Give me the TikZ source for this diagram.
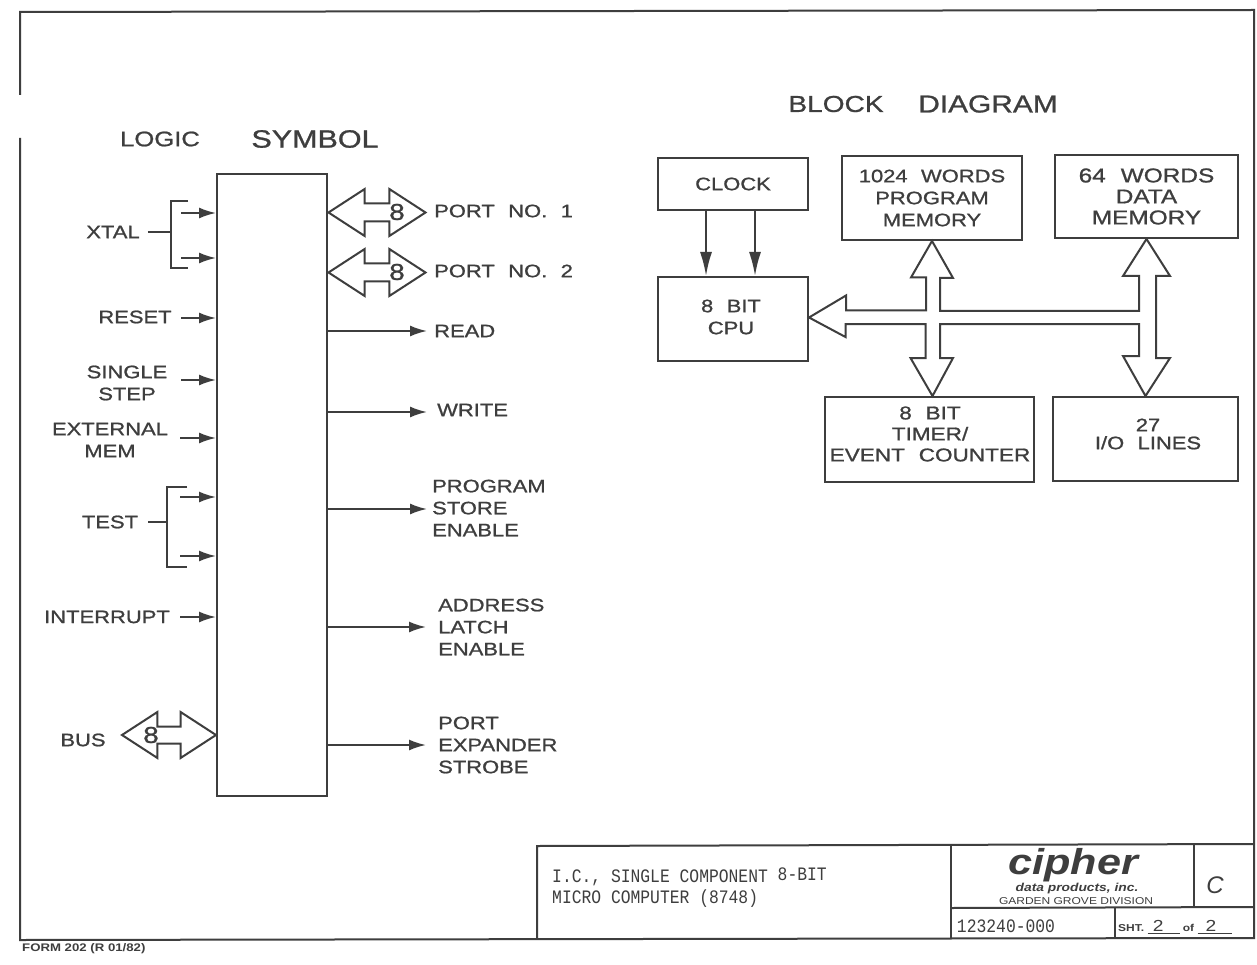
\documentclass[tikz,border=0pt]{standalone}
\usepackage{xcolor}
\usepackage{fontspec}
\usepackage{tikz}
\usetikzlibrary{shapes.arrows, arrows.meta, positioning}
\setmainfont{Liberation Sans}
\newfontfamily\letterfont[FakeStretch=1.22, FakeBold=1, WordSpace=2.2]{Liberation Sans}
\newfontfamily\logofont[FakeStretch=1.2]{Liberation Sans}
\newfontfamily\typefont[FakeStretch=0.86]{Liberation Mono}
\definecolor{inkgray}{RGB}{62, 62, 62}

\begin{document}
\begin{tikzpicture}[
    x=1pt, y=-1pt,
    lbl/.style={inner sep=0pt, align=left, text=inkgray, font=\letterfont\fontsize{18}{22}\selectfont},
    lblc/.style={lbl, align=center},
    head/.style={lbl, font=\letterfont\fontsize{23}{23}\selectfont},
    width/.style={lbl, font=\letterfont\fontsize{23}{23}\selectfont},
    small/.style={inner sep=0pt, text=inkgray},
    block/.style={draw=inkgray, line width=2pt, inner sep=0pt, align=center, text=inkgray,
                  font=\letterfont\fontsize{18}{22}\selectfont},
    wire/.style={draw=inkgray, line width=2pt},
    sig/.style={wire, -{Latex[length=17pt, width=11pt]}},
    clk/.style={wire, -{Latex[length=24pt, width=12pt]}},
    bus/.style={draw=inkgray, line width=2pt, fill=white, line join=miter},
    port/.style={double arrow, draw=inkgray, line width=2pt, inner sep=0pt, minimum height=97pt,
                 double arrow head extend=14.5pt, double arrow tip angle=66},
    frameline/.style={draw=inkgray, line width=2pt}
]
    \useasboundingbox (0,0) rectangle (1257,965);
    \fill[white] (0,0) rectangle (1257,965);

    % Sheet frame
    \draw[frameline] (20,95) -- (20,12) -- (1254,10) -- (1254,938) -- (20,940) -- (20,138);

    % Logic symbol
    \node[head, font=\letterfont\fontsize{21}{21}\selectfont] (logichead) at (160,139) {LOGIC};
    \node[head, font=\letterfont\fontsize{25}{25}\selectfont] (symbolhead) at (315,139) {SYMBOL};
    \node[block, minimum width=110pt, minimum height=622pt] (logic) at (272,485) {};

    % Inputs
    \node[lbl] (xtal) at (113,232) {XTAL};
    \coordinate (xbrace) at (171,232);
    \draw[wire, shorten <=8pt] (xtal.east) -- (xbrace);
    \draw[wire] (xbrace) ++(17,-31) -- ++(-17,0) -- ++(0,67) -- ++(17,0);
    \coordinate (xone) at (181,213);
    \coordinate (xtwo) at (181,258);
    \draw[sig] (xone) -- (xone -| logic.west);
    \draw[sig] (xtwo) -- (xtwo -| logic.west);

    \node[lbl] (reset) at (135,317) {RESET};
    \coordinate (rset) at (181,318);
    \draw[sig] (rset) -- (rset -| logic.west);

    \node[lblc] (single) at (127,383) {SINGLE\\STEP};
    \coordinate (sstep) at (181,380);
    \draw[sig] (sstep) -- (sstep -| logic.west);

    \node[lblc] (extmem) at (110,440) {EXTERNAL\\MEM};
    \coordinate (emem) at (180,438);
    \draw[sig] (emem) -- (emem -| logic.west);

    \node[lbl] (test) at (110,522) {TEST};
    \coordinate (tbrace) at (167,522);
    \draw[wire, shorten <=10pt] (test.east) -- (tbrace);
    \draw[wire] (tbrace) ++(20,-35) -- ++(-20,0) -- ++(0,80) -- ++(20,0);
    \coordinate (tone) at (180,497);
    \coordinate (ttwo) at (180,556);
    \draw[sig] (tone) -- (tone -| logic.west);
    \draw[sig] (ttwo) -- (ttwo -| logic.west);

    \node[lbl] (interrupt) at (107,617) {INTERRUPT};
    \coordinate (intr) at (180,617);
    \draw[sig] (intr) -- (intr -| logic.west);

    \node[lbl] (buslbl) at (83,740) {BUS};
    \node[port, minimum height=94pt] (busarrow) at (169,735) {\rule{0pt}{15pt}};
    \node[width] (buswidth) at (151,735) {8};

    % Outputs
    \node[port] (portone) at (377,212.5) {\rule{0pt}{16pt}};
    \node[width] (onewidth) at (397,212) {8};
    \node[lbl, anchor=west] (portonelbl) at (434,211) {PORT NO. 1};
    \node[port] (porttwo) at (377,272.5) {\rule{0pt}{16pt}};
    \node[width] (twowidth) at (397,272) {8};
    \node[lbl, anchor=west] (porttwolbl) at (434,271) {PORT NO. 2};

    \node[lbl, anchor=west] (read) at (434,331) {READ};
    \node[lbl, anchor=west] (write) at (437,410) {WRITE};
    \node[lbl, anchor=west] (store) at (432,508) {PROGRAM\\STORE\\ENABLE};
    \node[lbl, anchor=west] (latch) at (438,627) {ADDRESS\\LATCH\\ENABLE};
    \node[lbl, anchor=west] (strobe) at (438,745) {PORT\\EXPANDER\\STROBE};
    \coordinate (oread) at (427,331);
    \coordinate (owrite) at (427,412);
    \coordinate (ostore) at (427,509);
    \coordinate (olatch) at (426,627);
    \coordinate (ostrobe) at (426,745);
    \draw[sig] (oread -| logic.east) -- (oread);
    \draw[sig] (owrite -| logic.east) -- (owrite);
    \draw[sig] (ostore -| logic.east) -- (ostore);
    \draw[sig] (olatch -| logic.east) -- (olatch);
    \draw[sig] (ostrobe -| logic.east) -- (ostrobe);

    % Block diagram
    \node[head] (blockhead) at (836,104) {BLOCK};
    \node[head, font=\letterfont\fontsize{24.5}{25}\selectfont] (diagramhead) at (988,104) {DIAGRAM};
    \node[block, minimum width=150pt, minimum height=52pt] (clock) at (733,184) {CLOCK};
    \node[block, minimum width=150pt, minimum height=84pt] (cpu) at (733,319) {};
    \node[lblc] (cputext) at (731,317) {8 BIT\\CPU};
    \node[block, minimum width=180pt, minimum height=84pt] (prog) at (932,198) {1024 WORDS\\PROGRAM\\MEMORY};
    \node[block, minimum width=183pt, minimum height=83pt,
          font=\letterfont\fontsize{20}{21}\selectfont] (data) at (1146.5,196.5) {64 WORDS\\DATA\\MEMORY};
    \node[block, minimum width=209pt, minimum height=85pt] (timer) at (929.5,439.5) {};
    \node[lblc, font=\letterfont\fontsize{18.5}{21}\selectfont] (timertext) at (930,434) {8 BIT\\TIMER/\\EVENT COUNTER};
    \node[block, minimum width=185pt, minimum height=84pt] (io) at (1145.5,439) {};
    \node[lblc, font=\letterfont\fontsize{18}{18}\selectfont] (iotext) at (1148,434) {27\\I/O LINES};

    \coordinate (clkone) at (706,210);
    \coordinate (clktwo) at (755,210);
    \draw[clk] (clkone) -- (clkone |- cpu.north);
    \draw[clk] (clktwo) -- (clktwo |- cpu.north);

    \coordinate (hub) at (932.5,317.5);
    \draw[bus] (cpu.east |- hub) -- ++(37,-22) -- ++(0,15) -- ++(80,0) -- ++(0,-33) -- ++(-15,0)
        -- (prog.south) -- ++(21,37) -- ++(-13,0) -- ++(0,33) -- ++(199,0) -- ++(0,-35) -- ++(-16,0)
        -- (data.south) -- ++(23.5,37) -- ++(-14,0) -- ++(0,82) -- ++(14,0)
        -- (io.north) -- ++(-22.5,-40) -- ++(16,0) -- ++(0,-32) -- ++(-199,0) -- ++(0,34) -- ++(13,0)
        -- (timer.north -| hub) -- ++(-22,-38) -- ++(15,0) -- ++(0,-34) -- ++(-80,0) -- ++(0,13) -- cycle;

    % Title block
    \draw[frameline] (537,938) -- (537,846) -- (1254,844);
    \draw[frameline] (951,845) -- (951,938);
    \draw[frameline] (951,908) -- (1254,907);
    \draw[frameline] (1194,845) -- (1194,908);
    \draw[frameline] (1115,908) -- (1115,938);
    \node[small, anchor=west, align=left, font=\typefont\fontsize{19}{21}\selectfont] (titletext) at (552,888) {I.C., SINGLE COMPONENT \raisebox{2pt}{8-BIT}\\MICRO COMPUTER (8748)};
    \node[small, font=\logofont\bfseries\itshape\fontsize{36}{36}\selectfont] (cipher) at (1073,865) {cipher};
    \node[small, font=\logofont\bfseries\itshape\fontsize{11.5}{12}\selectfont] (dataprod) at (1077,889) {data products, inc.};
    \node[small, font=\logofont\fontsize{10}{11}\selectfont] (garden) at (1076,901) {GARDEN GROVE DIVISION};
    \node[small, font=\itshape\fontsize{24}{24}\selectfont] (rev) at (1215,885) {C};
    \node[small, font=\typefont\fontsize{19}{19}\selectfont] (dwgno) at (1006,926) {123240-000};
    \node[small, anchor=west, font=\logofont\bfseries\fontsize{10}{10}\selectfont] (sheet) at (1118,927) {SHT. \underline{\mdseries\fontsize{16}{16}\selectfont\ 2\hspace{16pt}}\ of \underline{\mdseries\fontsize{16}{16}\selectfont\hspace{8pt}2\hspace{16pt}}};
    \node[small, anchor=west, font=\logofont\bfseries\fontsize{11}{11}\selectfont] (form) at (22,949) {FORM 202 (R 01/82)};
\end{tikzpicture}
\end{document}
